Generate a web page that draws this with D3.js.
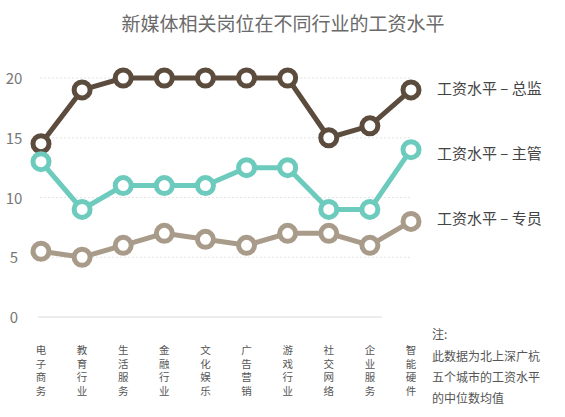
<!DOCTYPE html><html><head><meta charset="utf-8"><script src="https://d3js.org/d3.v7.min.js"></script>
<style>body{margin:0;background:#fff}</style></head><body><svg id="c" width="565" height="417"></svg><script>
const categories=["电子商务","教育行业","生活服务","金融行业","文化娱乐","广告营销","游戏行业","社交网络","企业服务","智能硬件"];
const director=[14.5,19,20,20,20,20,20,15,16,19];
const manager=[13,9,11,11,11,12.5,12.5,9,9,14];
const specialist=[5.5,5,6,7,6.5,6,7,7,6,8];
const yTicks=[0,5,10,15,20];
const seriesNames=["工资水平 – 总监","工资水平 – 主管","工资水平 – 专员"];
const colors=["#5c4c3e","#6ccbbd","#a99b8a"];
const svg=d3.select("#c");const f="'Noto Sans CJK SC',sans-serif";
svg.append("text").attr("x",283).attr("y",31).attr("text-anchor","middle").attr("font-family",f).attr("font-size",19).attr("fill","#6a6a6a").text("新媒体相关岗位在不同行业的工资水平");
const x=d3.scalePoint().domain(categories).range([41,411]);
const y=d3.scaleLinear().domain([0,20]).range([317,78]);
yTicks.forEach(t=>{
 svg.append("line").attr("x1",t?40:38).attr("x2",t?410:382).attr("y1",y(t)).attr("y2",y(t)).attr("stroke",t?"#e4e4e4":"#d8d8d8").attr("stroke-width",1).attr("stroke-dasharray",t?"2,2":null);
 svg.append("text").attr("x",14).attr("y",y(t)+6).attr("text-anchor","middle").attr("font-family",f).attr("font-size",15).attr("fill","#777").text(t);
});
[director,manager,specialist].forEach((s,i)=>{
 const g=svg.append("g");
 g.append("path").datum(s).attr("fill","none").attr("stroke",colors[i]).attr("stroke-width",5).attr("d",d3.line().x((d,j)=>x(categories[j])).y(d=>y(d)));
 g.selectAll("circle").data(s).join("circle").attr("cx",(d,j)=>x(categories[j])).attr("cy",d=>y(d)).attr("r",8).attr("fill","#fff").attr("stroke",colors[i]).attr("stroke-width",5);
 svg.append("text").attr("x",437).attr("y",[94,159,224][i]).attr("font-family",f).attr("font-size",15).attr("fill","#444").text(seriesNames[i]);
});
categories.forEach(c=>{
 [...c].forEach((ch,k)=>svg.append("text").attr("x",x(c)).attr("y",354+k*13.5).attr("text-anchor","middle").attr("font-family",f).attr("font-size",10.5).attr("fill","#555").text(ch));
});
["注:","此数据为北上深广杭","五个城市的工资水平","的中位数均值"].forEach((t,k)=>svg.append("text").attr("x",432).attr("y",[339,361,382,403][k]).attr("font-family",f).attr("font-size",12).attr("fill","#555").text(t));
</script></body></html>
